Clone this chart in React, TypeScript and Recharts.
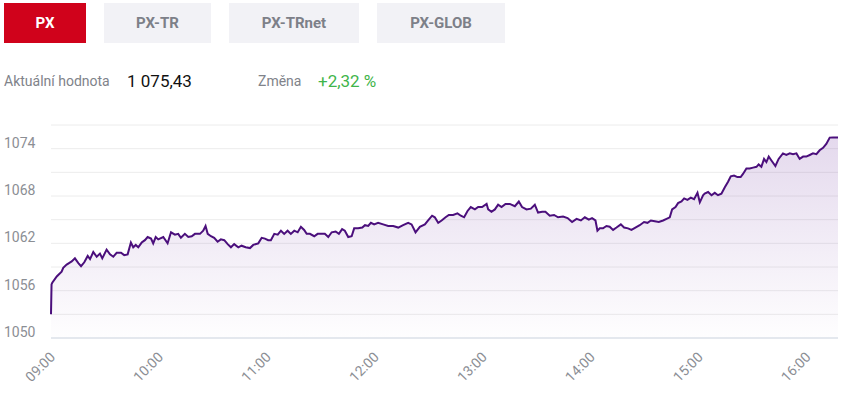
import { Area, AreaChart, CartesianGrid, XAxis, YAxis } from 'recharts'

// minuty od 09:00 a hodnoty indexu PX
const minutes = [
  0, 0.3, 0.7, 3.2, 5.9, 6.8, 8.7, 10, 11.5, 13.3, 15.2, 16.7, 18.5, 20.4, 21.7, 23.5, 25.4, 27.2, 28.5, 30.9,
  32.8, 34.6, 36.5, 38.9, 40.7, 42.6, 44.4, 45.7, 47.1, 48.5, 50.4, 52.2, 53.7, 55.6, 56.8, 58.2, 59.6, 62.4, 64.8, 66.7,
  68.9, 70.7, 72.2, 74.4, 76.3, 78.2, 80, 82.8, 84.6, 85.9, 87.1, 88.9, 90.7, 92.6, 94.4, 96.3, 98.2, 100, 101.8, 104.1,
  105.9, 108.2, 110.6, 112.4, 115.2, 117.1, 118.9, 120.7, 122.2, 124.1, 126, 127.8, 129.6, 131.5, 133.3, 135.2, 137.1, 138.9, 140.7, 142.1,
  143.9, 146.3, 148.2, 150.4, 152.2, 154.1, 156, 158.2, 160, 161.8, 163.3, 165.2, 167.1, 168.5, 170.7, 173, 174.5, 176.3, 177.8, 179.6,
  181.8, 184.6, 187.4, 190.2, 193, 195.7, 198.5, 200.4, 202.6, 205, 207.8, 209.6, 211.8, 213.3, 215.2, 217.1, 219.3, 221.1, 223.5, 225.9,
  227.8, 229.6, 231.5, 233.3, 235.6, 237.4, 239.6, 242.1, 243, 244.8, 246.7, 248.5, 250.4, 252.6, 255, 257.8, 260, 261.8, 264.3, 266.7,
  268.9, 270.7, 273, 274.8, 277.2, 279.6, 281.8, 284.6, 287.1, 289.6, 292.1, 294.5, 296.7, 298.9, 300.7, 302.6, 303.7, 305, 306.8, 308.7,
  310.5, 312.4, 314.3, 316.7, 318.5, 320.7, 322.6, 324.8, 327.2, 329.6, 331.5, 333.4, 335.6, 337.8, 340.2, 342.1, 343.9, 345.2, 347.1, 348.5,
  350.4, 351.9, 353.7, 355.6, 357.4, 359.3, 360.6, 362.4, 363.3, 365.2, 367.1, 368.9, 370.7, 372.6, 374.5, 376.3, 377.8, 379.6, 381.5, 383.3,
  384.6, 386.5, 388.3, 390.2, 392.1, 393.3, 394.8, 396.3, 397.6, 398.9, 400.4, 402.6, 404.4, 406.8, 408.7, 410.6, 412.4, 414.3, 416.1, 418,
  419.8, 421.7, 423.5, 425.4, 427.2, 429.1, 430.9, 432.8, 434.6, 437.4,
]

const values = [
  1053.0, 1056.8, 1057.0, 1057.8, 1058.4, 1058.9, 1059.3, 1059.5, 1059.7, 1060.1, 1059.5, 1059.1, 1059.6, 1060.4, 1060.0, 1060.9, 1060.3, 1060.7, 1060.1, 1061.2,
  1060.6, 1060.3, 1060.8, 1060.8, 1060.5, 1060.6, 1062.1, 1061.5, 1061.8, 1061.5, 1062.1, 1062.4, 1062.8, 1062.6, 1062.0, 1062.8, 1062.5, 1062.8, 1062.0, 1063.4,
  1063.1, 1063.2, 1062.7, 1063.2, 1062.8, 1062.9, 1063.2, 1063.2, 1063.6, 1064.2, 1063.2, 1062.9, 1062.7, 1062.2, 1062.5, 1062.4, 1061.9, 1061.5, 1061.9, 1061.5,
  1061.7, 1061.5, 1061.4, 1061.8, 1062.0, 1062.7, 1062.6, 1062.4, 1062.4, 1063.2, 1063.1, 1063.6, 1063.2, 1063.6, 1063.2, 1063.6, 1063.4, 1064.1, 1063.7, 1063.2,
  1063.2, 1062.9, 1063.2, 1063.2, 1063.2, 1062.8, 1063.4, 1063.5, 1063.2, 1063.8, 1063.6, 1062.8, 1062.9, 1063.9, 1063.9, 1064.0, 1064.3, 1064.2, 1064.6, 1064.4,
  1064.6, 1064.4, 1064.2, 1064.2, 1064.0, 1064.3, 1064.6, 1064.4, 1063.4, 1064.1, 1064.4, 1064.9, 1065.5, 1065.3, 1064.6, 1064.9, 1065.3, 1065.6, 1065.6, 1065.8,
  1065.5, 1065.3, 1066.1, 1066.6, 1066.3, 1066.6, 1066.6, 1067.0, 1066.3, 1066.0, 1066.3, 1066.9, 1066.6, 1067.0, 1067.0, 1066.7, 1067.3, 1066.6, 1066.3, 1066.4,
  1066.9, 1065.9, 1066.0, 1066.0, 1065.5, 1065.6, 1065.3, 1065.4, 1065.2, 1064.7, 1065.1, 1064.9, 1065.3, 1065.0, 1065.2, 1064.9, 1063.6, 1063.9, 1063.9, 1064.2,
  1064.1, 1063.7, 1064.0, 1064.4, 1064.0, 1063.9, 1063.7, 1064.0, 1064.3, 1064.7, 1064.6, 1064.9, 1064.8, 1064.7, 1064.9, 1065.1, 1065.3, 1066.3, 1066.6, 1067.1,
  1067.3, 1067.7, 1067.5, 1067.8, 1067.6, 1068.4, 1067.2, 1068.1, 1068.3, 1068.5, 1068.1, 1068.4, 1068.1, 1068.3, 1069.1, 1069.8, 1070.5, 1070.6, 1070.4, 1070.4,
  1070.8, 1071.5, 1071.5, 1071.6, 1071.7, 1072.0, 1071.7, 1072.7, 1072.3, 1073.0, 1072.5, 1071.8, 1072.7, 1073.4, 1073.2, 1073.4, 1073.3, 1073.4, 1072.7, 1073.0,
  1073.0, 1073.2, 1073.4, 1073.3, 1073.8, 1074.1, 1074.6, 1075.4, 1075.43, 1075.43,
]

const hourTicks = [0, 60, 120, 180, 240, 300, 360, 420]
const hourLabels = ['09:00', '10:00', '11:00', '12:00', '13:00', '14:00', '15:00', '16:00']
const valueTicks = [1050, 1053, 1056, 1059, 1062, 1065, 1068, 1071, 1074, 1077]
const tabs = ['PX', 'PX-TR', 'PX-TRnet', 'PX-GLOB']

const data = minutes.map((t, i) => ({ t, v: values[i] }))

const font = 'Roboto, sans-serif'

function YTick({ y, payload }: any) {
  if ((payload.value - 1050) % 6 !== 0) return null
  return (
    <text x={4} y={y - 6} dominantBaseline="central" fill="#8b8e94" fontSize={14} fontFamily={font}>
      {payload.value}
    </text>
  )
}

function XTick({ x, y, payload }: any) {
  const label = hourLabels[hourTicks.indexOf(payload.value)]
  const ax = x + 5
  const ay = y + 12
  return (
    <text
      x={ax}
      y={ay}
      textAnchor="end"
      fill="#8b8e94"
      fontSize={14}
      fontFamily={font}
      transform={`rotate(-45, ${ax}, ${ay})`}
    >
      {label}
    </text>
  )
}

const tabPos = [
  { left: 4, width: 82 },
  { left: 104, width: 107 },
  { left: 229, width: 130 },
  { left: 377, width: 128 },
]

export default function App() {
  return (
    <div style={{ position: 'absolute', left: 0, top: 0, width: 843, height: 393, background: '#fff', fontFamily: font }}>
      {tabs.map((name, i) => (
        <div
          key={name}
          style={{
            position: 'absolute',
            top: 3,
            left: tabPos[i].left,
            width: tabPos[i].width,
            height: 40,
            background: i === 0 ? '#d0021b' : '#f2f2f6',
            color: i === 0 ? '#fff' : '#7d8088',
            fontWeight: 700,
            fontSize: 15,
            display: 'flex',
            alignItems: 'center',
            justifyContent: 'center',
          }}
        >
          {name}
        </div>
      ))}
      <div style={{ position: 'absolute', top: 73, left: 4, fontSize: 14, color: '#80838a' }}>Aktuální hodnota</div>
      <div style={{ position: 'absolute', top: 71, left: 127, fontSize: 17, color: '#111' }}>1 075,43</div>
      <div style={{ position: 'absolute', top: 73, left: 258, fontSize: 14, color: '#80838a' }}>Změna</div>
      <div style={{ position: 'absolute', top: 71, left: 318, fontSize: 17, color: '#3fb54a' }}>+2,32 %</div>
      <div style={{ position: 'absolute', top: 100, left: 0 }}>
        <AreaChart width={843} height={293} data={data} margin={{ top: 25, right: 5, left: 4, bottom: 0 }}>
          <defs>
            <linearGradient id="pxFill" x1="0" y1="0" x2="0" y2="1">
              <stop offset="0%" stopColor="#6a2d9c" stopOpacity={0.3} />
              <stop offset="100%" stopColor="#6a2d9c" stopOpacity={0.01} />
            </linearGradient>
          </defs>
          <CartesianGrid vertical={false} stroke="#ececec" />
          <XAxis
            dataKey="t"
            type="number"
            domain={[0, 437.4]}
            ticks={hourTicks}
            tick={<XTick />}
            tickLine={false}
            axisLine={{ stroke: '#e4e8ee', strokeWidth: 2 }}
            height={55}
            interval={0}
          />
          <YAxis
            type="number"
            domain={[1050, 1077]}
            ticks={valueTicks}
            tick={<YTick />}
            tickLine={false}
            axisLine={false}
            width={47}
            interval={0}
          />
          <Area
            type="linear"
            dataKey="v"
            stroke="#4b0f7c"
            strokeWidth={2}
            fill="url(#pxFill)"
            dot={false}
            activeDot={false}
            isAnimationActive={false}
          />
        </AreaChart>
      </div>
    </div>
  )
}
